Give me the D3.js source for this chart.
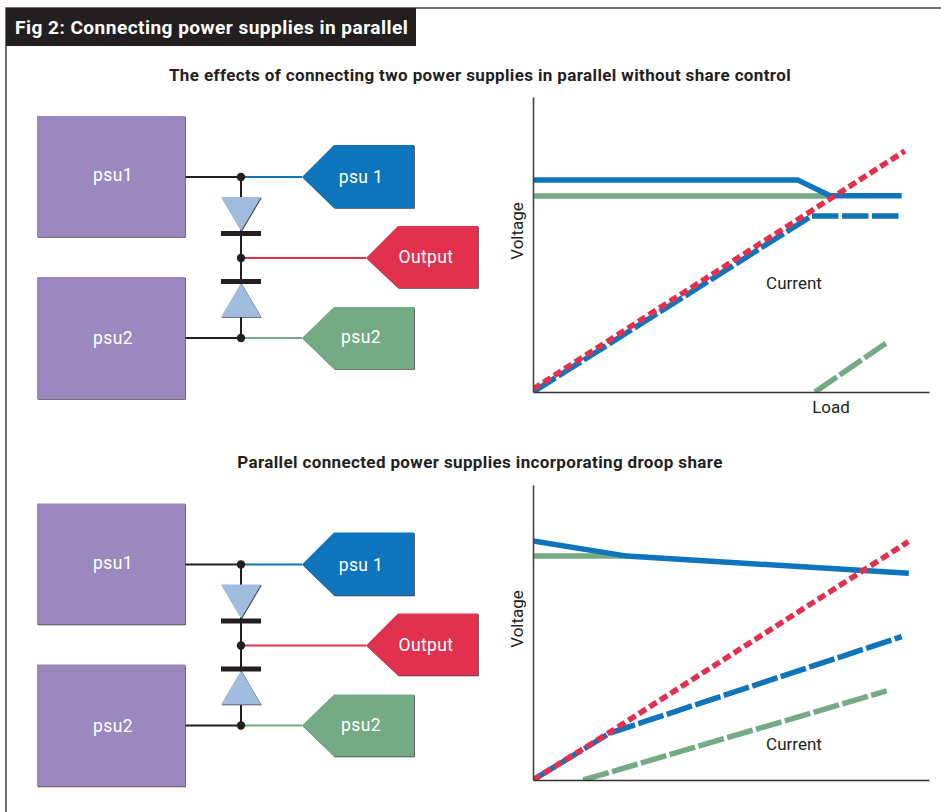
<!DOCTYPE html>
<meta charset="utf-8">
<script src="https://d3js.org/d3.v7.min.js"></script>
<style>
  html, body { margin: 0; padding: 0; background: #fff; }
  svg { display: block; }
  text { font-family: Roboto, sans-serif; }
</style>
<div id="my_dataviz"></div>

<script>
    // chart data, load and voltage both in percent of the axis length
    var title = "Fig 2: Connecting power supplies in parallel";
    var panelTitles = ["The effects of connecting two power supplies in parallel without share control",
                       "Parallel connected power supplies incorporating droop share"];
    var boxLabels = ["psu1", "psu2"];
    var tagLabels = ["psu 1", "Output", "psu2"];

    var top_psu1Volts = [[0, 71.9], [66.8, 71.9], [75, 66.5], [93.1, 66.5]];
    var top_psu2Volts = [[0, 66.4], [75, 66.4]];
    var top_psu1Amps = [[0, 0], [70.4, 59.7], [93.1, 59.7]];
    var top_psu2Amps = [[71.2, 0], [89.1, 16.5]];
    var top_output = [[0, 1], [93.9, 81.7]];

    var low_psu1Volts = [[0, 81], [23.7, 75.9], [94.9, 70.1]];
    var low_psu2Volts = [[0, 75.9], [23.7, 75.9]];
    var low_psu1Amps = [[0, 0], [19.4, 15.9], [93.1, 48.6]];
    var low_psu2Amps = [[12.7, 0], [89.3, 30.2]];
    var low_output = [[0, 0], [19.4, 16.2], [94.8, 80.8]];

    var blue = "#0e74bc", green = "#74aa84", red = "#e2314e",
        purple = "#9b88bf", pale = "#a0bde0", ink = "#231f20";

    var svg = d3.select("#my_dataviz")
      .append("svg")
        .attr("width", 941)
        .attr("height", 812);

    // frame and header
    svg.append("path")
        .attr("d", "M941,8H6V812")
        .attr("fill", "none")
        .attr("stroke", "#444")
        .attr("stroke-width", 1.5);
    svg.append("rect")
        .attr("x", 6).attr("y", 8)
        .attr("width", 410).attr("height", 38)
        .attr("fill", ink);
    svg.append("text")
        .attr("x", 15).attr("y", 34)
        .attr("fill", "#fff")
        .style("font-size", "19.1px")
        .style("font-weight", 700)
        .style("letter-spacing", "0.45px")
        .text(title);

    // subtitles
    svg.selectAll(".subtitle")
        .data(panelTitles)
        .enter().append("text")
        .attr("x", 480)
        .attr("y", (d, i) => i == 0 ? 81 : 468)
        .attr("text-anchor", "middle")
        .attr("fill", ink)
        .style("font-size", "17px")
        .style("font-weight", 700)
        .style("letter-spacing", "0.37px")
        .text(d => d);

    // shape with a thin dark edge on its right and bottom sides
    function tag(g, pts, fill) {
        g.append("polygon")
            .attr("points", pts.map(p => [p[0] + 0.8, p[1] + 0.8].join(",")).join(" "))
            .attr("fill", "#444");
        g.append("polygon")
            .attr("points", pts.join(" "))
            .attr("fill", fill);
    }

    function label(g, x, y, txt) {
        g.append("text")
            .attr("x", x).attr("y", y)
            .attr("text-anchor", "middle")
            .attr("fill", "#fff")
            .style("font-size", "17.5px")
            .style("letter-spacing", "0.4px")
            .text(txt);
    }

    function schematic(dy) {
        var g = svg.append("g").attr("transform", "translate(0," + dy + ")");

        // wires
        var wire = (x1, y1, x2, y2, c) => g.append("line")
            .attr("x1", x1).attr("y1", y1).attr("x2", x2).attr("y2", y2)
            .attr("stroke", c).attr("stroke-width", 2);
        wire(185, 177, 241, 177, ink);
        wire(185, 338, 241, 338, ink);
        wire(241, 177, 302, 177, blue);
        wire(241, 258, 366, 258, red);
        wire(241, 338, 302, 338, green);
        wire(241, 177, 241, 338, ink);

        // supplies
        tag(g, [[37, 116], [185, 116], [185, 237], [37, 237]], purple);
        tag(g, [[37, 277], [185, 277], [185, 399], [37, 399]], purple);
        label(g, 113, 181, boxLabels[0]);
        label(g, 113, 344, boxLabels[1]);

        // diodes
        tag(g, [[221, 197], [261, 197], [241, 231]], pale);
        tag(g, [[241, 283], [261, 317], [221, 317]], pale);
        g.append("rect").attr("x", 221).attr("y", 231).attr("width", 40).attr("height", 5).attr("fill", ink);
        g.append("rect").attr("x", 221).attr("y", 279).attr("width", 40).attr("height", 5).attr("fill", ink);
        [177, 258, 338].forEach(function(y) {
            g.append("circle").attr("cx", 241).attr("cy", y).attr("r", 4.2).attr("fill", ink);
        });

        // output tags
        tag(g, [[302, 177], [334, 145], [414, 145], [414, 208], [334, 208]], blue);
        tag(g, [[366, 258], [398, 226], [478, 226], [478, 288], [398, 288]], red);
        tag(g, [[302, 338], [334, 307], [414, 307], [414, 369], [334, 369]], green);
        label(g, 361, 183, tagLabels[0]);
        label(g, 426, 263, tagLabels[1]);
        label(g, 361, 343, tagLabels[2]);
    }

    function graph(baseline, series) {
        var x = d3.scaleLinear().domain([0, 100]).range([533, 929]);
        var y = d3.scaleLinear().domain([0, 100]).range([baseline, baseline - 295]);
        var line = d3.line().x(d => x(d[0])).y(d => y(d[1]));

        var g = svg.append("g");
        var clip = "clip" + baseline;
        g.append("clipPath").attr("id", clip)
          .append("rect")
            .attr("x", 533).attr("y", baseline - 295)
            .attr("width", 396).attr("height", 295);

        g.selectAll(".trace")
            .data(series)
            .enter().append("path")
            .attr("clip-path", "url(#" + clip + ")")
            .attr("d", d => line(d.values))
            .attr("fill", "none")
            .attr("stroke", d => d.color)
            .attr("stroke-width", 5.5)
            .attr("stroke-dasharray", d => d.dash);

        // axes, no ticks in the original
        g.append("g")
            .attr("transform", "translate(0," + baseline + ")")
            .call(d3.axisBottom(x).tickValues([]).tickSize(0))
            .select(".domain").attr("stroke", "#333").attr("stroke-width", 1.6);
        g.append("g")
            .attr("transform", "translate(533,0)")
            .call(d3.axisLeft(y).tickValues([]).tickSize(0))
            .select(".domain").attr("stroke", "#444").attr("stroke-width", 1.6);

        g.append("text")
            .attr("transform", "translate(523," + (baseline - 161) + ")rotate(-90)")
            .attr("text-anchor", "middle")
            .attr("fill", ink)
            .style("font-size", "17px")
            .text("Voltage");
    }

    function caption(x, y, txt) {
        svg.append("text")
            .attr("x", x).attr("y", y)
            .attr("text-anchor", "middle")
            .attr("fill", ink)
            .style("font-size", "17px")
            .text(txt);
    }

    var dashed = "26.5 3.5", dotted = "8.5 4";

    schematic(0);
    schematic(387.5);

    graph(392, [
        {values: top_psu2Volts, color: green, dash: null},
        {values: top_psu1Volts, color: blue, dash: null},
        {values: top_psu1Amps, color: blue, dash: dashed},
        {values: top_psu2Amps, color: green, dash: dashed},
        {values: top_output, color: red, dash: dotted}
    ]);
    graph(780, [
        {values: low_psu2Volts, color: green, dash: null},
        {values: low_psu1Volts, color: blue, dash: null},
        {values: low_psu1Amps, color: blue, dash: dashed},
        {values: low_psu2Amps, color: green, dash: dashed},
        {values: low_output, color: red, dash: dotted}
    ]);

    caption(794, 289, "Current");
    caption(831, 413, "Load");
    caption(794, 750, "Current");
</script>
